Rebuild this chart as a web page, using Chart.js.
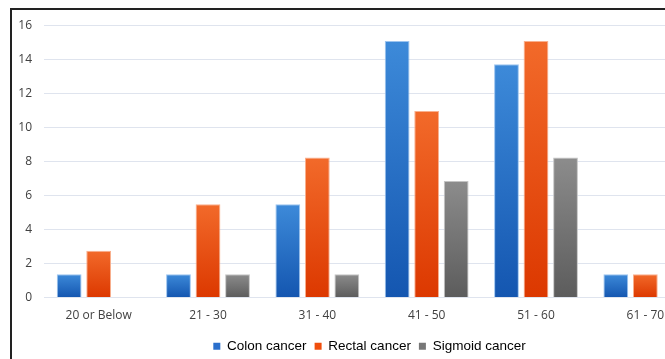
<!DOCTYPE html>
<html>
<head>
<meta charset="utf-8">
<script src="https://cdn.jsdelivr.net/npm/chart.js@4.4.1/dist/chart.umd.min.js"></script>
<style>
  html, body { margin: 0; padding: 0; background: #fff; overflow: hidden; width: 665px; height: 359px; }
  #frame { position: absolute; left: 10px; top: 8px; border-left: 2px solid #222; border-top: 2px solid #222; width: 760px; height: 370px; }
  #c { position: absolute; left: 0; top: -4px; }
</style>
</head>
<body>
<div id="frame"><canvas id="c" width="715" height="362"></canvas></div>
<script>
const categories = ["20 or Below", "21 - 30", "31 - 40", "41 - 50", "51 - 60", "61 - 70"];
const colonCancer   = [1.37, 1.37, 5.48, 15.07, 13.70, 1.37];
const rectalCancer  = [2.74, 5.48, 8.22, 10.96, 15.07, 1.37];
const sigmoidCancer = [null, 1.37, 1.37, 6.85, 8.22, null];
const yTicks = [0, 2, 4, 6, 8, 10, 12, 14, 16];

function grad(top, bottom) {
  return function (ctx) {
    const chart = ctx.chart;
    const v = ctx.raw;
    if (!chart.chartArea || v == null) return bottom;
    const y = chart.scales.y;
    const y0 = y.getPixelForValue(0);
    const y1 = y.getPixelForValue(v);
    if (!isFinite(y1) || y0 === y1) return bottom;
    const g = chart.ctx.createLinearGradient(0, y1, 0, y0);
    g.addColorStop(0, top);
    g.addColorStop(1, bottom);
    return g;
  };
}

const tickFont = { family: "'Open Sans', sans-serif", size: 12 };

new Chart(document.getElementById('c'), {
  type: 'bar',
  data: {
    labels: categories,
    datasets: [
      { label: 'Colon cancer', data: colonCancer, backgroundColor: grad('#3d8ad9', '#1456b0'), borderColor: '#9cc4ef', borderWidth: 1, legendColor: '#2a6fcc' },
      { label: 'Rectal cancer', data: rectalCancer, backgroundColor: grad('#f26a2a', '#dc3800'), borderColor: '#f9b08e', borderWidth: 1, legendColor: '#f04e0c' },
      { label: 'Sigmoid cancer', data: sigmoidCancer, backgroundColor: grad('#8c8c8c', '#5c5c5c'), borderColor: '#c4c4c4', borderWidth: 1, legendColor: '#777777' }
    ]
  },
  options: {
    responsive: false,
    animation: false,
    categoryPercentage: 0.81,
    barPercentage: 0.84,
    layout: { padding: { left: 0, right: 0, top: 0, bottom: 5 } },
    scales: {
      x: {
        afterFit: (s) => { s.height = 34; },
        grid: { display: false },
        border: { display: false },
        ticks: { color: '#404040', font: { family: "'Open Sans', sans-serif", size: 12, lineHeight: 1.95 }, padding: -2, maxRotation: 0 }
      },
      y: {
        min: 0, max: 16,
        afterBuildTicks: (s) => { s.ticks = yTicks.map(v => ({ value: v })); },
        afterFit: (s) => { s.width = 32; },
        grid: { color: '#dfe4ee', lineWidth: 1, drawTicks: false },
        border: { display: false },
        ticks: { color: '#404040', font: tickFont, padding: 12 }
      },
      yRight: {
        axis: 'y',
        position: 'right',
        afterFit: (s) => { s.width = 27; },
        grid: { display: false },
        border: { display: false },
        ticks: { display: false }
      }
    },
    plugins: {
      legend: {
        position: 'bottom',
        labels: {
          boxWidth: 7, boxHeight: 7, padding: 8,
          color: '#000',
          font: { family: "'Liberation Sans', Arial, sans-serif", size: 13.5 },
          generateLabels: (chart) => chart.data.datasets.map((d, i) => ({
            text: d.label, fillStyle: d.legendColor, strokeStyle: d.legendColor, lineWidth: 0, datasetIndex: i, hidden: false
          }))
        }
      },
      tooltip: { enabled: false }
    }
  }
});
</script>
</body>
</html>
